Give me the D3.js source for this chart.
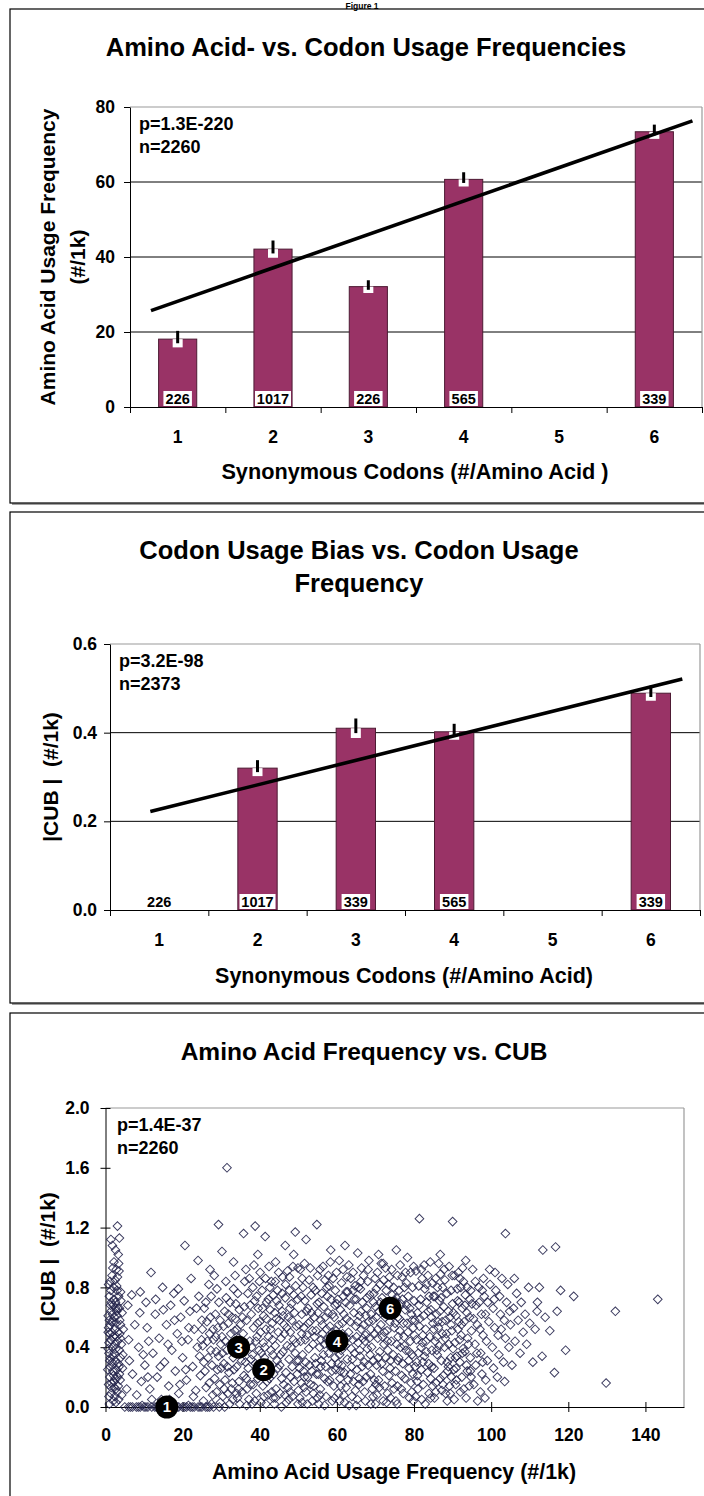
<!DOCTYPE html>
<html><head><meta charset="utf-8">
<script src="https://cdn.jsdelivr.net/npm/d3@7"></script>
<style>
body{margin:0;background:#fff}
svg{display:block}
text{font-family:"Liberation Sans",Arial,sans-serif;font-weight:bold;fill:#000}
</style>
</head><body>
<svg id="c" width="704" height="1496"></svg>
<script>
// ---------------- DATA ----------------
const codonCategories = [1, 2, 3, 4, 5, 6];

// Panel 1: Amino acid usage frequency per synonymous-codon class
const aaFreqValues = [18.1, 42.1, 32.1, 60.7, null, 73.4];
const aaFreqErrors = [2.2, 2.3, 1.7, 1.9, null, 1.9];
const aaFreqCounts = ["226", "1017", "226", "565", null, "339"];
const aaFreqTrend = [[0.72, 25.7], [6.40, 76.3]];
const aaFreqTicks = [0, 20, 40, 60, 80];

// Panel 2: |CUB| per synonymous-codon class
const cubValues = [0, 0.320, 0.410, 0.402, null, 0.489];
const cubErrors = [null, 0.018, 0.022, 0.018, null, 0.017];
const cubCounts = ["226", "1017", "339", "565", null, "339"];
const cubTrend = [[0.91, 0.222], [6.32, 0.521]];
const cubTicks = [0, 0.2, 0.4, 0.6];

// Panel 3: scatter of amino acid frequency vs |CUB|
const scatterXTicks = [0, 20, 40, 60, 80, 100, 120, 140];
const scatterYTicks = [0, 0.4, 0.8, 1.2, 1.6, 2.0];
const scatterMarkers = [
  {label: "1", x: 15.9, y: 0.0},
  {label: "2", x: 41.0, y: 0.25},
  {label: "3", x: 34.5, y: 0.40},
  {label: "4", x: 60.0, y: 0.44},
  {label: "6", x: 73.8, y: 0.66}
];
const scatterPoints = [
[1,.02],[1.4,.09],[0.8,.15],[2.1,.21],[1.2,.27],[2.6,.31],[0.9,.36],[1.8,.40],[3.1,.44],[1.1,.49],[2.4,.52],[1.6,.57],[0.7,.61],[2.9,.64],[1.3,.68],[2.2,.72],[3.4,.05],[2.7,.12],[3.8,.18],[1.9,.24],[3.3,.29],[2.0,.34],[3.6,.38],[2.8,.47],[3.9,.55],[1.5,.45],[2.3,.60],[3.2,.66],[1.0,.74],[3.0,.78],[2.5,.85],[1.7,.88],[3.5,.91],[2.2,.97],[3.3,1.02],[1.4,1.12],[3.6,1.13],[3.1,1.21],[2.6,1.05],[1.9,.93],[0.8,.82],[4.2,.08],[4.4,.26],[4.1,.42],[4.3,.63],[4.0,.71],[1.2,.55],[2.9,.25],[3.7,.58],[1.6,.16],[2.4,.07],[0.9,.43],[3.2,.50],[2.0,.68],[1.3,.33],[2.7,.39],[3.9,.33],[1.8,.62],[2.5,.19],[3.4,.74],[1.1,.20],[2.1,.47],[3.0,.10],[1.7,.30],[2.3,.13],[3.6,.22],[2.8,.56],[1.5,.70],[2.0,.04],[3.8,.46],[1.0,.58],[2.6,.66],[3.3,.14],[4.5,.35],[4.6,.52],[1.4,.78],[2.9,.81],[3.1,.87],[0.6,.25],[0.7,.50],
[0.9,.07],[1.5,.13],[2.2,.17],[3.5,.27],[1.1,.31],[2.5,.42],[3.7,.49],[0.8,.53],[2.0,.57],[3.0,.61],[1.4,.64],[2.6,.70],[3.9,.77],[1.2,.84],[2.8,.92],[1.8,1.08],[3.4,.96],[0.7,.39],[2.3,.36],[1.6,.50],[3.2,.20],[2.7,.03],[1.3,.45],[3.6,.66],[2.1,.80],
[5,0],[6,0],[7,0],[8,0],[9,0],[10,0],[11,0],[12,0],[12.8,0],[13.6,0],[14.4,0],[15.2,0],[16,0],[17,0],[18,0],[19,0],[20,0],[21,0],[22,0],[23,0],[24,0],[25,0],[26,0],[27,0],[28,0],[29.5,0],[6.5,0],[8.5,0],[10.5,0],[13.2,0],[14.8,0],[16.5,0],[18.6,0],[20.5,0],[22.5,0],[24.5,0],[26.5,0],[9.5,.01],[17.5,.01],[21.5,.01],
[5.5,.12],[6.2,.31],[7.0,.22],[6.8,.75],[8.1,.08],[8.6,.40],[9.3,.17],[9.0,.77],[10.2,.28],[10.8,.53],[11.5,.12],[11.8,.90],[12.3,.36],[12.9,.62],[13.4,.20],[13.9,.46],[14.5,.05],[14.8,.80],[15.3,.30],[15.8,.55],[16.4,.14],[16.9,.68],[17.2,.38],[17.7,.76],[18.1,.24],[18.6,.49],[19.0,.09],[19.5,.60],[20.0,.33],[20.4,.71],[20.6,1.08],[21.0,.18],[21.4,.45],[21.9,.64],[22.2,.86],[22.6,.27],[23.0,.52],[23.4,.11],[23.8,.40],[24.2,.74],[24.6,.21],[25.0,.58],[7.6,.55],[8.9,.63],[10.5,.70],[12.0,.05],[13.0,.72],[15.0,.65],[16.2,.42],[17.9,.58],[19.8,.44],[20.8,.25],[22.8,.07],[24.4,.34],[6.0,.45],[9.8,.35],[11.2,.44],[14.2,.27],[18.9,.79],[21.6,.53],[23.6,.66],[5.8,.68],[11.0,.20],[16.6,.05],[19.3,.15],[24.9,.45],
[25.4,.04],[26.1,.13],[25.8,.24],[26.6,.33],[25.2,.41],[27.0,.49],[26.3,.57],[25.6,.66],[27.4,.74],[26.8,.82],[27.8,.08],[28.3,.19],[27.6,.28],[28.7,.37],[28.0,.45],[29.1,.53],[28.5,.62],[29.4,.70],[28.9,.79],[29.8,.03],[29.6,.15],[30.0,.26],[29.3,.34],[27.2,.60],[26.0,.70],[28.2,.88],[29.9,.42],[26.9,.16],[25.1,.52],[27.9,.52],[29.0,.25],[26.4,.44],[28.8,.10],[25.5,.30],[27.3,.38],
[30.4,.07],[31.0,.18],[30.7,.29],[31.5,.38],[30.2,.47],[31.8,.56],[30.9,.64],[31.3,.73],[32.2,.02],[32.6,.12],[32.0,.23],[33.1,.33],[32.4,.42],[33.5,.51],[32.8,.60],[33.8,.69],[33.2,.79],[34.2,.06],[34.6,.17],[34.0,.27],[34.9,.36],[34.4,.46],[35.0,.55],[34.7,.65],[33.6,.88],[31.5,1.60],[29.3,1.22],[30.2,1.04],[31.2,.84],[32.9,.16],[31.7,.09],[33.9,.40],[30.6,.54],[32.3,.70],[34.3,.76],[31.1,.44],[33.3,.25],[34.8,.02],
[35.4,.10],[35.9,.21],[35.3,.31],[36.2,.40],[35.7,.49],[36.6,.58],[36.0,.67],[36.9,.76],[35.8,1.16],[37.2,.05],[37.6,.15],[37.0,.26],[38.1,.35],[37.4,.44],[38.4,.53],[37.8,.62],[38.7,.71],[38.2,.80],[38.8,1.21],[39.1,.09],[39.5,.19],[38.9,.29],[39.8,.38],[39.3,.47],[40.0,.57],[39.6,.66],[39.9,.84],[36.4,.92],[38.5,.95],[37.3,.86],[36.7,.12],[38.0,.02],[39.2,.74],[35.5,.60],[37.9,.40],[36.3,.30],
[40.3,.03],[40.8,.14],[40.5,.24],[41.2,.33],[40.9,.43],[41.6,.52],[41.0,.61],[41.8,.70],[41.4,1.14],[42.1,.08],[42.5,.19],[42.0,.29],[42.9,.38],[42.3,.47],[43.2,.56],[42.7,.65],[43.5,.75],[43.0,.84],[43.8,.02],[44.2,.12],[43.6,.22],[44.5,.31],[44.0,.41],[44.8,.50],[44.3,.59],[45.0,.68],[44.6,.78],[44.9,.90],[42.4,.94],[41.5,.86],[40.6,.78],[41.9,.17],[43.4,.35],[44.7,.26],[42.8,.52],[40.2,.50],[41.3,.40],[43.9,.63],[42.2,.72],[44.1,.06],[40.7,.66],[43.1,.10],
[45.3,.09],[45.7,.19],[45.2,.28],[46.0,.37],[45.5,.46],[46.3,.55],[45.8,.64],[46.6,.73],[46.6,1.08],[46.9,.03],[47.3,.13],[46.8,.23],[47.6,.32],[47.1,.41],[47.9,.50],[47.4,.60],[48.2,.69],[47.7,.78],[48.8,1.02],[48.5,.07],[48.9,.17],[48.4,.27],[49.2,.36],[48.7,.45],[49.5,.54],[49.0,.63],[49.8,.72],[49.3,.81],[49.2,1.17],[50.0,.11],[49.7,.22],[45.9,.87],[47.2,.91],[48.6,.94],[46.2,.15],[47.5,.05],[48.1,.40],[49.6,.31],[46.4,.49],[45.1,.58],[47.8,.66],[48.3,.58],[46.7,.82],[45.6,.00],[49.9,.02],
[50.4,.06],[50.8,.16],[50.3,.26],[51.1,.35],[50.6,.44],[51.4,.53],[50.9,.62],[51.7,.71],[51.2,.80],[52.0,1.12],[52.0,.10],[52.4,.20],[51.9,.30],[52.7,.39],[52.2,.48],[53.0,.57],[52.5,.66],[53.3,.75],[52.8,.85],[53.6,.04],[54.0,.14],[53.5,.24],[54.3,.33],[53.8,.42],[54.6,.51],[54.1,.60],[54.9,.69],[54.4,.78],[54.8,1.22],[55.0,.88],[50.5,.92],[51.6,.96],[53.1,.93],[51.5,.13],[52.9,.28],[54.2,.47],[50.2,.55],[51.8,.45],[53.4,.63],[54.7,.22],[50.7,.74],[52.3,.02],[53.9,.09],[51.3,.24],[52.6,.56],
[55.3,.02],[55.7,.12],[55.2,.22],[56.0,.31],[55.5,.40],[56.3,.49],[55.8,.58],[56.6,.67],[56.1,.76],[56.9,.85],[57.2,.07],[57.6,.17],[57.1,.27],[57.9,.36],[57.4,.45],[58.2,.54],[57.7,.63],[58.5,.72],[58.0,.81],[58.3,.97],[58.8,.04],[59.2,.14],[58.7,.24],[59.5,.33],[59.0,.42],[59.8,.51],[59.3,.60],[60.0,.69],[59.6,.78],[59.9,.90],[56.4,.94],[55.4,.70],[56.8,.19],[57.3,.52],[58.6,.29],[59.4,.06],[55.9,.45],[57.8,.88],[58.9,.62],[56.5,.35],[55.6,.08],[59.7,.25],[57.0,.60],[58.4,.40],[56.2,.55],
[60.4,.09],[60.8,.19],[60.3,.29],[61.1,.38],[60.6,.47],[61.4,.56],[60.9,.65],[61.7,.74],[61.2,.83],[62.0,.03],[62.4,.13],[61.9,.23],[62.7,.32],[62.2,.41],[63.0,.50],[62.5,.59],[63.3,.68],[62.8,.77],[63.6,.86],[62.1,1.08],[63.9,.07],[64.3,.17],[63.8,.27],[64.6,.36],[64.1,.45],[64.9,.54],[64.4,.63],[65.0,.72],[64.7,.81],[65.4,1.03],[63.1,.95],[61.6,.92],[60.5,.55],[61.0,.14],[62.6,.46],[63.5,.22],[64.2,.90],[60.2,.72],[61.8,.62],[63.7,.39],[64.8,.11],[62.3,.70],[60.7,.35],[63.2,.01],[61.3,.28],
[65.3,.05],[65.7,.15],[65.2,.25],[66.0,.34],[65.5,.43],[66.3,.52],[65.8,.61],[66.6,.70],[66.1,.79],[66.9,.88],[67.2,.10],[67.6,.20],[67.1,.30],[67.9,.39],[67.4,.48],[68.2,.57],[67.7,.66],[68.5,.75],[68.0,.84],[68.3,.98],[68.8,.02],[69.2,.12],[68.7,.22],[69.5,.31],[69.0,.40],[69.8,.49],[69.3,.58],[70.0,.67],[69.6,.76],[69.9,.86],[66.4,.93],[65.4,.57],[66.8,.17],[67.3,.44],[68.6,.35],[69.4,.07],[65.9,.38],[67.8,.73],[68.9,.62],[66.5,.27],[65.6,.80],[69.7,.18],[67.0,.55],[68.4,.46],[66.2,.64],
[70.4,.08],[70.8,.18],[70.3,.28],[71.1,.37],[70.6,.46],[71.4,.55],[70.9,.64],[71.7,.73],[71.2,.82],[71.5,.96],[72.0,.04],[72.4,.14],[71.9,.24],[72.7,.33],[72.2,.42],[73.0,.51],[72.5,.60],[73.3,.69],[72.8,.78],[73.6,.87],[73.9,.06],[74.3,.16],[73.8,.26],[74.6,.35],[74.1,.44],[74.9,.53],[74.4,.62],[75.0,.71],[74.7,.80],[74.2,.92],[70.5,.90],[72.6,.93],[71.0,.13],[72.3,.50],[73.5,.21],[74.8,.12],[70.2,.60],[71.8,.47],[73.2,.38],[74.5,.67],[70.7,.33],[72.9,.03],[73.7,.57],[71.3,.70],[72.1,.85],
[75.3,.04],[75.7,.14],[75.2,.24],[76.0,.33],[75.5,.42],[76.3,.51],[75.8,.60],[76.6,.69],[76.1,.78],[76.9,.87],[77.2,.09],[77.6,.19],[77.1,.29],[77.9,.38],[77.4,.47],[78.2,.56],[77.7,.65],[78.5,.74],[78.0,.83],[78.3,1.00],[78.8,.06],[79.2,.16],[78.7,.26],[79.5,.35],[79.0,.44],[79.8,.53],[79.3,.62],[80.0,.71],[79.6,.80],[79.9,.94],[76.4,.95],[75.4,.73],[76.8,.21],[77.3,.56],[78.6,.31],[79.4,.10],[75.9,.47],[77.8,.90],[78.9,.66],[76.5,.40],[75.6,.02],[79.7,.22],[77.0,.72],[78.4,.50],[76.2,.59],
[80.4,.07],[80.8,.17],[80.3,.27],[81.1,.36],[80.6,.45],[81.4,.54],[80.9,.63],[81.7,.72],[81.2,.81],[81.4,1.26],[82.0,.05],[82.4,.15],[81.9,.25],[82.7,.34],[82.2,.43],[83.0,.52],[82.5,.61],[83.3,.70],[82.8,.79],[83.6,.88],[83.9,.09],[84.3,.19],[83.8,.29],[84.6,.38],[84.1,.47],[84.9,.56],[84.4,.65],[85.0,.74],[84.7,.83],[84.2,.97],[80.5,.91],[82.6,.95],[81.0,.12],[82.3,.48],[83.5,.23],[84.8,.14],[80.2,.58],[81.8,.40],[83.2,.37],[84.5,.60],[80.7,.30],[82.9,.02],[83.7,.64],[81.3,.68],[82.1,.86],
[85.3,.06],[85.7,.16],[85.2,.26],[86.0,.35],[85.5,.44],[86.3,.53],[85.8,.62],[86.6,.71],[86.1,.80],[86.9,.89],[87.2,.11],[87.6,.21],[87.1,.31],[87.9,.40],[87.4,.49],[88.2,.58],[87.7,.67],[88.5,.76],[88.0,.85],[88.6,.04],[89.2,.14],[88.7,.24],[89.5,.33],[89.0,.42],[89.8,.51],[89.3,.60],[90.0,.69],[89.6,.78],[89.9,.88],[90.0,1.24],[86.4,.96],[85.4,.74],[86.8,.19],[87.3,.57],[88.6,.30],[89.4,.09],[85.9,.47],[87.8,.92],[88.9,.64],[86.5,.41],[85.6,.10],[89.7,.20],[87.0,.73],[88.4,.49],[86.2,.57],
[90.4,.05],[90.8,.15],[90.3,.25],[91.1,.34],[90.6,.43],[91.4,.52],[90.9,.61],[91.7,.70],[91.2,.79],[91.5,.90],[92.0,.10],[92.4,.20],[91.9,.30],[92.7,.39],[92.2,.48],[93.0,.57],[92.5,.66],[93.3,.75],[92.8,.84],[93.5,.06],[94.3,.14],[93.8,.24],[94.6,.33],[94.1,.42],[94.9,.51],[94.4,.60],[95.0,.69],[94.7,.78],[90.5,.88],[92.6,.93],[91.0,.18],[92.3,.55],[93.6,.28],[94.8,.20],[90.2,.63],[91.8,.45],[93.2,.37],[94.5,.72],[90.7,.33],[92.9,.12],[93.7,.63],[91.3,.71],[92.1,.80],
[95.5,.15],[96.0,.28],[95.8,.42],[96.4,.55],[96.1,.68],[96.8,.80],[97.2,.10],[97.6,.22],[97.3,.36],[97.9,.48],[97.5,.62],[98.2,.74],[98.0,.86],[98.6,.18],[99.0,.31],[98.8,.44],[99.4,.57],[99.1,.70],[99.7,.82],[100.2,.12],[100.6,.26],[100.3,.40],[100.9,.53],[100.5,.66],[101.2,.78],[101.0,.90],[101.6,.20],[102.0,.35],[101.8,.48],[102.4,.62],[102.2,.74],[102.8,.86],[103.5,.17],[103.2,.30],[103.7,.46],[103.4,.58],[104.0,.70],[103.7,1.16],[104.6,.40],[104.3,.82],[105.0,.55],[105.4,.28],[105.8,.66],[106.2,.44],[106.6,.76],[107.0,.58],[107.5,.36],[107.8,.70],[108.3,.50],[108.8,.62],[109.2,.42],[109.7,.80],[110.0,.56],[96.5,.04],[98.4,.06],[95.2,.92],
[111.4,.52],[111.9,.64],[113.2,.34],[113.4,1.05],[115.2,.51],[116.4,.23],[116.7,1.07],[117.1,.64],[119.3,.38],[121.4,.74],[112.5,.80],[114.0,.60],[110.8,.30],[112.0,.70],[118.0,.78],
[129.8,.16],[132.2,.64],[143.2,.72],
[28.6,.47],[29.7,.58],[30.8,.12],[31.6,.27],[32.5,.49],[33.7,.59],[34.5,.12],[35.2,.44],[36.5,.19],[37.5,.68],[38.3,.15],[39.4,.56],[40.4,.36],[41.1,.07],[41.7,.59],[42.6,.26],[43.3,.45],[44.4,.71],[45.4,.35],[46.1,.61],[46.5,.08],[47.0,.53],[48.0,.20],[48.8,.75],[49.4,.43],[50.1,.31],[50.9,.49],[51.6,.20],[52.1,.64],[53.2,.15],[53.7,.51],[54.5,.29],[55.1,.63],[55.8,.27],[56.7,.42],[57.5,.74],[58.1,.18],[58.8,.50],[59.5,.68],[60.1,.41],[60.9,.24],[61.5,.49],[62.4,.77],[62.9,.18],[63.4,.57],[64.0,.32],[64.5,.72],[65.1,.47],[65.8,.19],[66.7,.46],[67.5,.61],[68.1,.28],[68.8,.52],[69.5,.70],[70.1,.15],[70.6,.52],[71.6,.29],[72.4,.66],[73.1,.44],[73.9,.31],[74.3,.75],[75.1,.56],[75.8,.31],[76.7,.12],[77.5,.41],[78.1,.68],[78.8,.37],[79.5,.58],[80.1,.48],[80.9,.21],[81.5,.59],[82.3,.30],[83.1,.44],[83.9,.74],[84.6,.27],[85.1,.52],[85.9,.38],[86.7,.64],[87.5,.15],[88.1,.46],[88.9,.27],[89.6,.55],[90.1,.39],[90.9,.26],[91.6,.57],[92.5,.36],[93.2,.68],[93.9,.46],[94.6,.24],[95.4,.59],[96.3,.36],[97.1,.52],[97.8,.30],[96.9,.70],[98.5,.62],
[30.3,.36],[31.9,.62],[33.0,.05],[34.1,.52],[36.1,.84],[37.7,.32],[39.0,.44],[40.1,.90],[42.6,.80],[44.0,.84],[45.8,.76],[47.7,.87],[49.9,.93],[51.0,.86],[53.8,.80],[55.6,.92],[57.4,.80],[59.0,.86],[60.6,.98],[62.6,.87],[64.2,.78],[66.2,.84],[68.1,.92],[70.2,.79],[72.0,.96],[73.4,.82],[75.7,.88],[77.5,.80],[79.1,.90],[81.9,.92],[83.3,.82],[85.6,.86],[87.4,.80],[89.1,.94],[91.9,.86],[93.8,.80],[95.9,.84],[97.7,.78],[99.6,.92],[100.8,.72],[102.6,.52],[104.8,.64],[106.0,.86],[58.4,1.05],[70.8,1.02],[75.4,1.05],[86.8,1.02],[93.4,.98],[44.1,.97],[39.5,1.02],[33.2,.97],[27.1,.92],[24.0,.98],
[60.7,.04],[65.0,.01],[70.0,.02],[56.8,.01],[51.0,.03],[43.5,.06],[38.7,.04],[34.0,.09],[27.5,.02],[30.9,.00],[36.6,.01],[41.6,.02],[47.9,.10],[54.9,.06],[61.8,.08],[67.4,.04],[73.1,.09],[79.8,.04],[84.3,.06],[88.2,.09]
];

// ---------------- DRAWING ----------------
const svg = d3.select("#c");
const FONT = '"Liberation Sans", Arial, sans-serif';

function panelBox(y0, h) {
  svg.append("rect").attr("x", 12).attr("y", y0 + 2).attr("width", 700).attr("height", h).attr("fill", "#a0a0a0");
  svg.append("rect").attr("x", 10).attr("y", y0).attr("width", 700).attr("height", h)
    .attr("fill", "#fff").attr("stroke", "#000").attr("stroke-width", 1.2);
}

function txt(x, y, s, size, anchor, parent) {
  return (parent || svg).append("text").attr("x", x).attr("y", y)
    .attr("text-anchor", anchor || "start").style("font-size", size + "px").text(s);
}

function vtxt(cx, cy, s, size) {
  return svg.append("text").attr("transform", `translate(${cx},${cy}) rotate(-90)`)
    .attr("text-anchor", "middle").attr("dy", "0.36em").style("font-size", size + "px")
    .style("white-space", "pre").text(s);
}

function styleAxis(g, size) {
  g.attr("font-family", null).attr("font-size", null);
  g.selectAll("text").style("font-size", size + "px").style("font-family", FONT).style("font-weight", "bold").attr("fill", "#000");
  g.selectAll("line,path").attr("stroke", "#000");
}

panelBox(9, 494);
panelBox(512, 491);
panelBox(1013, 500);

// "Figure 1" heading (squeezed into the strip above the first panel)
txt(362, 8.6, "Figure 1", 8.5, "middle");

function barPanel(o) {
  const x = d3.scaleLinear().domain([0.5, 6.5]).range([o.left, o.right]);
  const y = d3.scaleLinear().domain([0, o.ymax]).range([o.bottom, o.top]);
  const g = svg.append("g");

  g.selectAll("line.grid").data(o.ticks.filter(t => t > 0 && t < o.ymax)).join("line")
    .attr("x1", o.left).attr("x2", o.right).attr("y1", d => y(d)).attr("y2", d => y(d))
    .attr("stroke", "#000").attr("stroke-width", 1);
  g.append("line").attr("x1", o.left).attr("x2", o.right).attr("y1", y(o.ymax)).attr("y2", y(o.ymax))
    .attr("stroke", "#9a9a9a").attr("stroke-width", 1.2);
  g.append("line").attr("x1", o.right).attr("x2", o.right).attr("y1", y(o.ymax)).attr("y2", y(0))
    .attr("stroke", "#9a9a9a").attr("stroke-width", 1.2);

  const data = codonCategories.map((c, i) => ({c, v: o.values[i], e: o.errors[i], n: o.counts[i]}));
  const half = 0.2;

  g.selectAll("rect.bar").data(data.filter(d => d.v > 0)).join("rect")
    .attr("x", d => x(d.c - half)).attr("width", d => x(d.c + half) - x(d.c - half))
    .attr("y", d => y(d.v)).attr("height", d => y(0) - y(d.v))
    .attr("fill", "#993366").attr("stroke", "#4d1a33").attr("stroke-width", 1);

  const eb = data.filter(d => d.v > 0 && d.e);
  g.selectAll("rect.notch").data(eb).join("rect")
    .attr("x", d => x(d.c) - 5).attr("width", 10)
    .attr("y", d => y(d.v)).attr("height", d => y(d.v - d.e) - y(d.v))
    .attr("fill", "#fff");
  g.selectAll("line.err").data(eb).join("line")
    .attr("x1", d => x(d.c)).attr("x2", d => x(d.c))
    .attr("y1", d => y(d.v + d.e)).attr("y2", d => y(d.v - d.e * 0.5))
    .attr("stroke", "#000").attr("stroke-width", 3);

  g.append("path").datum(o.trend)
    .attr("d", d3.line().x(d => x(d[0])).y(d => y(d[1])))
    .attr("stroke", "#000").attr("stroke-width", 3.6).attr("fill", "none");

  const lab = g.selectAll("g.lab").data(data.filter(d => d.n)).join("g");
  lab.append("rect").attr("fill", "#fff")
    .attr("x", d => x(d.c) - (d.n.length * 7.5 + 6) / 2).attr("width", d => d.n.length * 7.5 + 6)
    .attr("y", y(0) - 16).attr("height", 15);
  lab.append("text").attr("x", d => x(d.c)).attr("y", y(0) - 3.5)
    .attr("text-anchor", "middle").style("font-size", "14.5px").text(d => d.n);

  const ya = g.append("g").attr("transform", `translate(${o.left},0)`)
    .call(d3.axisLeft(y).tickValues(o.ticks).tickSize(6).tickSizeOuter(0).tickPadding(o.ypad).tickFormat(o.fmt));
  styleAxis(ya, 17.5);
  const xa = g.append("g").attr("transform", `translate(0,${o.bottom})`)
    .call(d3.axisBottom(x).tickValues([0.5, 1.5, 2.5, 3.5, 4.5, 5.5, 6.5]).tickSize(6).tickSizeOuter(0).tickFormat(""));
  styleAxis(xa, 17);

  g.selectAll("text.xl").data(codonCategories).join("text")
    .attr("x", d => x(d)).attr("y", o.xlabY).attr("text-anchor", "middle")
    .style("font-size", "17.5px").text(d => d);

  txt(o.statX, o.statY, o.p, 18);
  txt(o.statX, o.statY + 23, o.n, 18);
}

// ---------- Panel 1 ----------
txt(366, 56, "Amino Acid- vs. Codon Usage Frequencies", 25.5, "middle");
barPanel({
  left: 130, right: 702, top: 107, bottom: 407, ymax: 80,
  ticks: aaFreqTicks, fmt: d3.format("d"), ypad: 9,
  values: aaFreqValues, errors: aaFreqErrors, counts: aaFreqCounts, trend: aaFreqTrend,
  xlabY: 443, statX: 139, statY: 130, p: "p=1.3E-220", n: "n=2260"
});
txt(415, 479, "Synonymous Codons (#/Amino Acid )", 21.7, "middle");
vtxt(47, 257, "Amino Acid Usage Frequency", 21);
vtxt(77, 257, "(#/1k)", 21);

// ---------- Panel 2 ----------
txt(359, 559, "Codon Usage Bias vs. Codon Usage", 25.5, "middle");
txt(359, 592, "Frequency", 25.5, "middle");
barPanel({
  left: 110, right: 700, top: 644, bottom: 910, ymax: 0.6,
  ticks: cubTicks, fmt: d3.format(".1f"), ypad: 7,
  values: cubValues, errors: cubErrors, counts: cubCounts, trend: cubTrend,
  xlabY: 946, statX: 119, statY: 667, p: "p=3.2E-98", n: "n=2373"
});
txt(404, 983, "Synonymous Codons (#/Amino Acid)", 21.5, "middle");
vtxt(50, 777, "|CUB |  (#/1k)", 21);

// ---------- Panel 3 ----------
txt(364, 1060, "Amino Acid Frequency vs. CUB", 24.5, "middle");
{
  const x = d3.scaleLinear().domain([0, 150]).range([105.5, 684]);
  const y = d3.scaleLinear().domain([0, 2]).range([1407, 1108]);
  const g = svg.append("g");
  g.append("line").attr("x1", x(0)).attr("x2", x(150)).attr("y1", y(2)).attr("y2", y(2))
    .attr("stroke", "#9a9a9a").attr("stroke-width", 1.2);
  g.append("line").attr("x1", x(150)).attr("x2", x(150)).attr("y1", y(2)).attr("y2", y(0))
    .attr("stroke", "#9a9a9a").attr("stroke-width", 1.2);

  const ya = g.append("g").attr("transform", `translate(${x(0)},0)`)
    .call(d3.axisLeft(y).tickValues(scatterYTicks).tickSize(5).tickSizeOuter(0).tickPadding(11).tickFormat(d3.format(".1f")));
  ya.selectAll(".tick line").attr("x1", 5);
  styleAxis(ya, 17.5);
  const xa = g.append("g").attr("transform", `translate(0,${y(0)})`)
    .call(d3.axisBottom(x).tickValues(scatterXTicks).tickSize(5).tickSizeOuter(0).tickPadding(17).tickFormat(d3.format("d")));
  xa.selectAll(".tick line").attr("y1", -5);
  styleAxis(xa, 17.5);

  const diamond = d3.symbol().type(d3.symbolSquare).size(38);
  g.selectAll("path.pt").data(scatterPoints).join("path")
    .attr("d", diamond)
    .attr("transform", d => `translate(${x(d[0])},${y(d[1])}) rotate(45)`)
    .attr("fill", "none").attr("stroke", "#26264e").attr("stroke-width", 0.95).attr("stroke-opacity", 0.9);

  const m = g.selectAll("g.mk").data(scatterMarkers).join("g")
    .attr("transform", d => `translate(${x(d.x)},${y(d.y)})`);
  m.append("circle").attr("r", 11.5).attr("fill", "#000");
  m.append("text").attr("text-anchor", "middle").attr("dy", "0.36em")
    .style("font-size", "15px").style("fill", "#fff").text(d => d.label);

  txt(117, 1131, "p=1.4E-37", 18);
  txt(117, 1154, "n=2260", 18);
}
txt(394, 1479, "Amino Acid Usage Frequency (#/1k)", 21.4, "middle");
vtxt(47, 1257, "|CUB |  (#/1k)", 21);
</script>
</body></html>
